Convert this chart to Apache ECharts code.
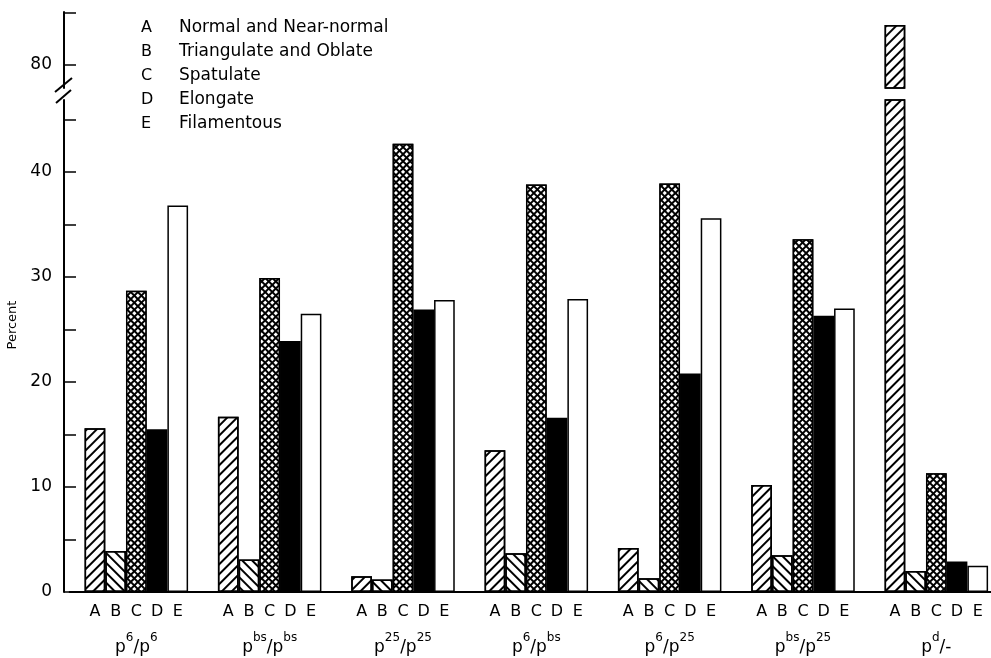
<!DOCTYPE html>
<html>
<head>
<meta charset="utf-8">
<script src="https://cdn.jsdelivr.net/npm/echarts@6/dist/echarts.min.js"></script>
<style>
  html, body { margin: 0; padding: 0; background: #fff; }
  #main { width: 991px; height: 658px; }
</style>
</head>
<body>
<div id="main"></div>
<script>
// genotypes on the x axis (superscript alleles)
var genotypes = [['6', '6'], ['bs', 'bs'], ['25', '25'], ['6', 'bs'], ['6', '25'], ['bs', '25'], ['d', '-']];
var categories = genotypes.map(function (g) { return 'p' + g[0] + '/' + (g[1] === '-' ? '-' : 'p' + g[1]); });

var shapeKeys = ['A', 'B', 'C', 'D', 'E'];
var shapeNames = ['Normal and Near-normal', 'Triangulate and Oblate', 'Spatulate', 'Elongate', 'Filamentous'];

// percent of each shape class
var valuesA = [15.6, 16.7, 1.5, 13.5, 4.2, 10.2, 83.8];
var valuesB = [3.9, 3.1, 1.2, 3.7, 1.3, 3.5, 2.0];
var valuesC = [28.7, 29.9, 42.7, 38.8, 38.9, 33.6, 11.3];
var valuesD = [15.5, 23.9, 26.9, 16.6, 20.8, 26.3, 2.9];
var valuesE = [36.8, 26.5, 27.8, 27.9, 35.6, 27.0, 2.5];
var allValues = [valuesA, valuesB, valuesC, valuesD, valuesE];

// broken y axis: lower part and upper part
var lowerTicks = [0, 5, 10, 15, 20, 25, 30, 35, 40, 45];
var lowerLabels = [0, 10, 20, 30, 40];
var upperTicks = [80, 85];
var upperLabels = [80];

var font = 'DejaVu Sans';

var fills = ['#fff', '#fff', '#000', '#000', '#fff'];
var decals = [
    { symbol: 'rect', symbolSize: 1, dashArrayX: [1, 0], dashArrayY: [2, 5], rotation: -Math.PI / 4, color: '#000' },
    { symbol: 'rect', symbolSize: 1, dashArrayX: [1, 0], dashArrayY: [2, 5], rotation: Math.PI / 4, color: '#000' },
    { symbol: 'rect', symbolSize: 1, dashArrayX: [3, 2], dashArrayY: [3, 2], rotation: Math.PI / 4, color: '#fff' },
    null,
    null
];

var myChart = echarts.init(document.getElementById('main'));

var series = [];
shapeKeys.forEach(function (k, i) {
    var itemStyle = { color: fills[i], borderColor: '#000', borderWidth: 1.5 };
    if (decals[i]) itemStyle.decal = decals[i];
    series.push({
        name: k, type: 'bar', xAxisIndex: 0, yAxisIndex: 0,
        barWidth: 20.7, barGap: '0%',
        data: allValues[i], itemStyle: itemStyle,
        label: { show: true, position: 'bottom', distance: 12, formatter: k, fontFamily: font, fontSize: 16, color: '#000' }
    });
    series.push({
        name: k, type: 'bar', xAxisIndex: 1, yAxisIndex: 1,
        barWidth: 20.7, barGap: '0%',
        data: allValues[i], itemStyle: itemStyle
    });
});

var axisLineStyle = { color: '#000', width: 2 };

myChart.setOption({
    animation: false,
    backgroundColor: '#fff',
    legend: {
        data: shapeKeys,
        orient: 'vertical',
        left: 131, top: 14,
        itemGap: 7, itemWidth: 0, itemHeight: 0,
        itemStyle: { borderWidth: 0 },
        selectedMode: false,
        formatter: function (name) {
            return '{k|' + name + '}{v|' + shapeNames[shapeKeys.indexOf(name)] + '}';
        },
        textStyle: {
            fontFamily: font, fontSize: 17, color: '#000',
            rich: {
                k: { width: 38, fontFamily: font, fontSize: 16, lineHeight: 17 },
                v: { fontFamily: font, fontSize: 17, lineHeight: 17 }
            }
        }
    },
    grid: [
        { left: 69.67, width: 933.33, top: 100, height: 492, outerBoundsMode: 'none' },
        { left: 69.67, width: 933.33, top: 12, height: 76, outerBoundsMode: 'none' }
    ],
    xAxis: [
        {
            type: 'category', gridIndex: 0, data: categories,
            axisLine: { lineStyle: axisLineStyle },
            axisTick: { show: false },
            axisLabel: {
                interval: 0,
                margin: 40,
                formatter: function (v, idx) {
                    var g = genotypes[idx];
                    if (g[1] === '-') return '{g|p}{s|' + g[0] + '}{g|/-}';
                    return '{g|p}{s|' + g[0] + '}{g|/p}{s|' + g[1] + '}';
                },
                rich: {
                    g: { fontFamily: font, fontSize: 17, color: '#000', lineHeight: 24, verticalAlign: 'bottom' },
                    s: { fontFamily: font, fontSize: 12, color: '#000', lineHeight: 13, verticalAlign: 'top' }
                }
            }
        },
        {
            type: 'category', gridIndex: 1, data: categories, show: false
        }
    ],
    yAxis: [
        {
            type: 'value', gridIndex: 0, min: 0, max: 46.86, offset: 5.67,
            name: 'Percent', nameLocation: 'middle', nameGap: 42, nameRotate: 90,
            nameTextStyle: { fontFamily: font, fontSize: 13, color: '#000', padding: [0, 0, 0, 42] },
            splitLine: { show: false },
            axisLine: { show: true, lineStyle: axisLineStyle },
            axisTick: { show: true, inside: true, length: 12, customValues: lowerTicks, lineStyle: { color: '#000', width: 1.5 } },
            axisLabel: { customValues: lowerLabels, margin: 12, fontFamily: font, fontSize: 17, color: '#000' }
        },
        {
            type: 'value', gridIndex: 1, min: 77.81, max: 85.05, offset: 5.67,
            splitLine: { show: false },
            axisLine: { show: true, lineStyle: axisLineStyle },
            axisTick: { show: true, inside: true, length: 12, customValues: upperTicks, lineStyle: { color: '#000', width: 1.5 } },
            axisLabel: { customValues: upperLabels, margin: 12, fontFamily: font, fontSize: 17, color: '#000' }
        }
    ],
    graphic: [
        { type: 'line', shape: { x1: 55, y1: 92, x2: 72, y2: 78 }, style: { stroke: '#000', lineWidth: 2 } },
        { type: 'line', shape: { x1: 56, y1: 103, x2: 71, y2: 90 }, style: { stroke: '#000', lineWidth: 2 } }
    ],
    series: series
});
</script>
</body>
</html>
